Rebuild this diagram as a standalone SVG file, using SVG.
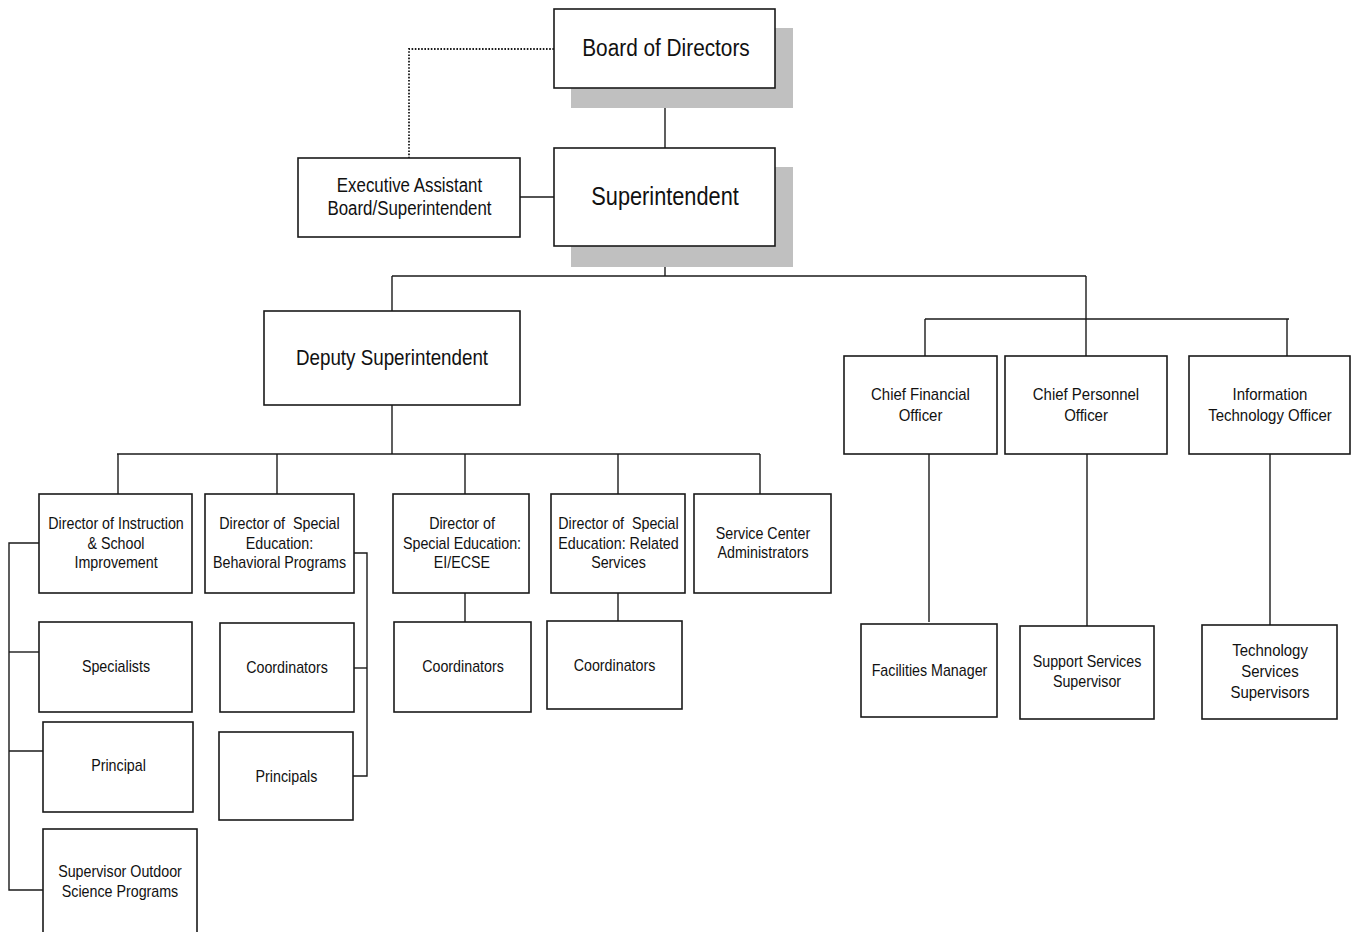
<svg xmlns="http://www.w3.org/2000/svg" width="1358" height="932" viewBox="0 0 1358 932">
<style>
.box{fill:#fff;stroke:#1a1a1a;stroke-width:1.6}
.shadow{fill:#c0c0c0;stroke:none}
.ln{fill:none;stroke:#1a1a1a;stroke-width:1.4}
.dot{fill:none;stroke:#1a1a1a;stroke-width:1.8;stroke-dasharray:1.6 1.6}
text{font-family:"Liberation Sans",Arial,sans-serif;fill:#111;text-anchor:middle;transform-box:fill-box;transform-origin:center;transform:scaleX(0.87)}
.s{font-size:16.4px}
.m{font-size:17.2px}
</style>
<rect width="1358" height="932" fill="#fff"/>
<g id="connectors">
<polyline class="dot" points="554,49 409,49 409,158"/>
<line class="ln" x1="665" y1="88" x2="665" y2="148"/>
<line class="ln" x1="520" y1="197" x2="554" y2="197"/>
<line class="ln" x1="665" y1="246" x2="665" y2="276"/>
<line class="ln" x1="392" y1="276" x2="1086" y2="276"/>
<line class="ln" x1="392" y1="276" x2="392" y2="311"/>
<line class="ln" x1="1086" y1="276" x2="1086" y2="356"/>
<line class="ln" x1="925" y1="319" x2="1289" y2="319"/>
<line class="ln" x1="925" y1="319" x2="925" y2="356"/>
<line class="ln" x1="1287" y1="319" x2="1287" y2="356"/>
<line class="ln" x1="392" y1="405" x2="392" y2="454"/>
<line class="ln" x1="117" y1="454" x2="760" y2="454"/>
<line class="ln" x1="118" y1="454" x2="118" y2="494"/>
<line class="ln" x1="277" y1="454" x2="277" y2="494"/>
<line class="ln" x1="465" y1="454" x2="465" y2="494"/>
<line class="ln" x1="618" y1="454" x2="618" y2="494"/>
<line class="ln" x1="760" y1="454" x2="760" y2="494"/>
<polyline class="ln" points="39,543 9,543 9,890 43,890"/>
<line class="ln" x1="9" y1="652" x2="39" y2="652"/>
<line class="ln" x1="9" y1="751" x2="43" y2="751"/>
<polyline class="ln" points="354,553 367,553 367,776 353,776"/>
<line class="ln" x1="354" y1="668" x2="367" y2="668"/>
<line class="ln" x1="465" y1="593" x2="465" y2="622"/>
<line class="ln" x1="618" y1="593" x2="618" y2="621"/>
<line class="ln" x1="929" y1="454" x2="929" y2="622"/>
<line class="ln" x1="1087" y1="454" x2="1087" y2="626"/>
<line class="ln" x1="1270" y1="454" x2="1270" y2="625"/>
</g>
<g id="board">
<rect class="shadow" x="571" y="28" width="222" height="80"/>
<rect class="box" x="554" y="9" width="221" height="79"/>
<text x="666" y="56" style="font-size:23.9px">Board of Directors</text>
</g>
<g id="superintendent">
<rect class="shadow" x="571" y="167" width="222" height="100"/>
<rect class="box" x="554" y="148" width="221" height="98"/>
<text x="665" y="205" style="font-size:25px">Superintendent</text>
</g>
<g id="exec-assistant">
<rect class="box" x="298" y="158" width="222" height="79"/>
<text x="409.5" y="192" style="font-size:19.4px">Executive Assistant</text>
<text x="409.5" y="215" style="font-size:19.4px">Board/Superintendent</text>
</g>
<g id="deputy">
<rect class="box" x="264" y="311" width="256" height="94"/>
<text x="392" y="365" style="font-size:21.6px">Deputy Superintendent</text>
</g>
<g id="cfo">
<rect class="box" x="844" y="356" width="153" height="98"/>
<text class="m" x="920.5" y="400">Chief Financial</text>
<text class="m" x="920.5" y="421">Officer</text>
</g>
<g id="cpo">
<rect class="box" x="1005" y="356" width="162" height="98"/>
<text class="m" x="1086" y="400">Chief Personnel</text>
<text class="m" x="1086" y="421">Officer</text>
</g>
<g id="ito">
<rect class="box" x="1189" y="356" width="161" height="98"/>
<text class="m" x="1270" y="400">Information</text>
<text class="m" x="1270" y="421">Technology Officer</text>
</g>
<g id="facilities">
<rect class="box" x="861" y="624" width="136" height="93"/>
<text class="s" x="929.5" y="676">Facilities Manager</text>
</g>
<g id="support-services">
<rect class="box" x="1020" y="626" width="134" height="93"/>
<text class="s" x="1087" y="667">Support Services</text>
<text class="s" x="1087" y="687">Supervisor</text>
</g>
<g id="tech-services">
<rect class="box" x="1202" y="625" width="135" height="94"/>
<text class="m" x="1270" y="656">Technology</text>
<text class="m" x="1270" y="677">Services</text>
<text class="m" x="1270" y="698">Supervisors</text>
</g>
<g id="dir-instruction">
<rect class="box" x="39" y="494" width="153" height="99"/>
<text class="s" x="116" y="529">Director of Instruction</text>
<text class="s" x="116" y="549">&amp; School</text>
<text class="s" x="116" y="568">Improvement</text>
</g>
<g id="dir-behavioral">
<rect class="box" x="205" y="494" width="149" height="99"/>
<text class="s" x="279.5" y="529" xml:space="preserve">Director of  Special</text>
<text class="s" x="279.5" y="549">Education:</text>
<text class="s" x="279.5" y="568">Behavioral Programs</text>
</g>
<g id="dir-eiecse">
<rect class="box" x="393" y="494" width="136" height="99"/>
<text class="s" x="462" y="529">Director of</text>
<text class="s" x="462" y="549">Special Education:</text>
<text class="s" x="462" y="568">EI/ECSE</text>
</g>
<g id="dir-related">
<rect class="box" x="551" y="494" width="134" height="99"/>
<text class="s" x="618.5" y="529" xml:space="preserve">Director of  Special</text>
<text class="s" x="618.5" y="549">Education: Related</text>
<text class="s" x="618.5" y="568">Services</text>
</g>
<g id="service-center">
<rect class="box" x="694" y="494" width="137" height="99"/>
<text class="s" x="763" y="539">Service Center</text>
<text class="s" x="763" y="558">Administrators</text>
</g>
<g id="specialists">
<rect class="box" x="39" y="622" width="153" height="90"/>
<text class="s" x="116" y="672">Specialists</text>
</g>
<g id="principal">
<rect class="box" x="43" y="722" width="150" height="90"/>
<text class="s" x="118.5" y="771">Principal</text>
</g>
<g id="supervisor-outdoor">
<rect class="box" x="43" y="829" width="154" height="130"/>
<text class="s" x="120" y="877.5">Supervisor Outdoor</text>
<text class="s" x="120" y="897">Science Programs</text>
</g>
<g id="coordinators-behavioral">
<rect class="box" x="220" y="623" width="134" height="89"/>
<text class="s" x="287" y="673">Coordinators</text>
</g>
<g id="principals-behavioral">
<rect class="box" x="219" y="732" width="134" height="88"/>
<text class="s" x="286.5" y="782">Principals</text>
</g>
<g id="coordinators-eiecse">
<rect class="box" x="394" y="622" width="137" height="90"/>
<text class="s" x="463" y="672.5">Coordinators</text>
</g>
<g id="coordinators-related">
<rect class="box" x="547" y="621" width="135" height="88"/>
<text class="s" x="614.5" y="671">Coordinators</text>
</g>
</svg>
